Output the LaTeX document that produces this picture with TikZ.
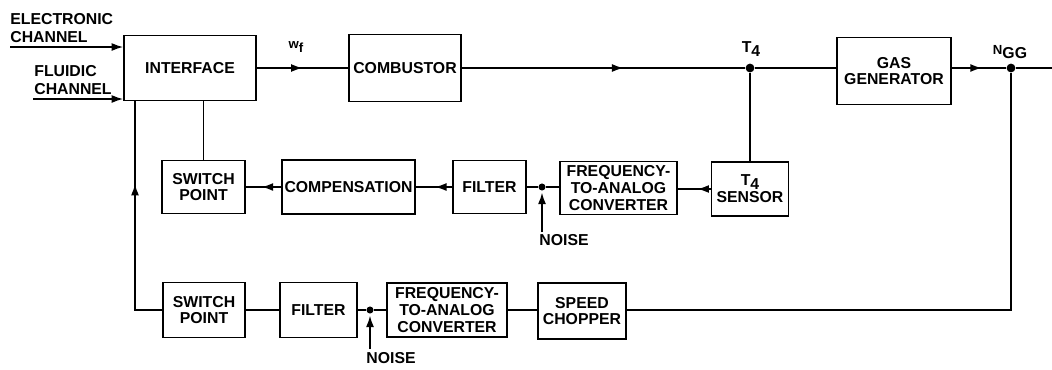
\documentclass[tikz,border=0pt]{standalone}
\usepackage{fontspec}
\setmainfont{Liberation Sans}
\usetikzlibrary{arrows.meta,decorations.markings}
\newcommand\blkfont{\fontsize{9}{9.6}\selectfont\bfseries}
\newcommand\lowr[1]{\raisebox{-0.45ex}{#1}}
\begin{document}
\begin{tikzpicture}[x=0.02cm,y=-0.02cm,
  blk/.style={draw,line width=1pt,inner sep=0pt,align=center,font=\blkfont},
  lbl/.style={inner sep=0pt,align=left,font=\fontsize{9}{10.4}\selectfont\bfseries},
  wire/.style={line width=0.8pt},
  tip/.style={-{Latex[length=6.5pt,width=4.5pt]}},
  marr/.style={postaction={decorate},decoration={markings,mark=at position #1 with {\arrow{Latex[length=6.5pt,width=4.5pt]}}}},
  bigdot/.style={circle,fill,inner sep=0pt,minimum size=5pt},
  smalldot/.style={circle,fill,inner sep=0pt,minimum size=4pt}]
\useasboundingbox (0,0) rectangle (1052,369);

% top row
\node[blk,minimum width=2.64cm,minimum height=1.30cm] (iface) at (190,68) {INTERFACE};
\node[blk,minimum width=2.24cm,minimum height=1.34cm] (comb) at (405,68) {COMBUSTOR};
\node[blk,minimum width=2.28cm,minimum height=1.34cm] (gg) at (894,71) {GAS\\GENERATOR};
\node[bigdot] (t4) at (750,68) {};
\node[bigdot] (ngg) at (1011,68) {};
\coordinate (rend) at (1052,68);

% middle row
\node[blk,minimum width=1.66cm,minimum height=1.06cm] (sp1) at (203.5,187) {SWITCH\\POINT};
\node[blk,minimum width=2.66cm,minimum height=1.08cm] (comp) at (348.5,187) {COMPENSATION};
\node[blk,minimum width=1.46cm,minimum height=1.06cm] (filt1) at (489.5,187) {FILTER};
\node[smalldot] (j1) at (542,187) {};
\node[blk,minimum width=2.34cm,minimum height=1.06cm] (fa1) at (618.5,188) {FREQUENCY-\\TO-ANALOG\\CONVERTER};
\node[blk,minimum width=1.54cm,minimum height=1.08cm] (sens) at (750,189) {T\lowr{4}\\SENSOR};

% bottom row
\node[blk,minimum width=1.64cm,minimum height=1.10cm] (sp2) at (204,310) {SWITCH\\POINT};
\node[blk,minimum width=1.54cm,minimum height=1.10cm] (filt2) at (318.5,310) {FILTER};
\node[smalldot] (j2) at (370,310) {};
\node[blk,minimum width=2.40cm,minimum height=1.08cm] (fa2) at (447,310) {FREQUENCY-\\TO-ANALOG\\CONVERTER};
\node[blk,minimum width=1.76cm,minimum height=1.12cm] (chop) at (582,311) {SPEED\\CHOPPER};

% labels
\node[lbl,anchor=north west] (elab) at (10,13) {ELECTRONIC\\CHANNEL};
\node[lbl,anchor=north west] (flab) at (34,65) {FLUIDIC\\CHANNEL};
\node[inner sep=0pt,font=\fontsize{7.5}{8}\selectfont\bfseries] (wf) at (296,47) {w\lowr{f}};
\node[inner sep=0pt,font=\fontsize{9}{10}\selectfont\bfseries] (t4l) at (751,49) {T\lowr{4}};
\node[inner sep=0pt,font=\fontsize{9}{10}\selectfont\bfseries] (nggl) at (1010,52) {{\fontsize{7.5}{8}\selectfont N}\lowr{GG}};
\node[inner sep=0pt,font=\fontsize{9}{10}\selectfont\bfseries] (n1) at (564,240) {NOISE};
\node[inner sep=0pt,font=\fontsize{9}{10}\selectfont\bfseries] (n2) at (391,358) {NOISE};

% inputs
\coordinate (ein) at (10,47);
\coordinate (fin) at (33,99);
\draw[wire,tip] (ein) -- (ein -| iface.west);
\draw[wire,tip] (fin) -- (fin -| iface.west);

% forward path
\draw[wire,marr=0.5] (iface.east) -- (comb.west);
\draw[wire,marr=0.57] (comb.east) -- (t4);
\draw[wire] (t4) -- (t4 -| gg.west);
\draw[wire,marr=0.55] (t4 -| gg.east) -- (ngg);
\draw[wire] (ngg) -- (rend);

% temperature loop
\draw[wire] (t4) -- (sens.north);
\draw[wire,marr=0.4] (sens.west) -- (sens.west -| fa1.east);
\draw[wire] (j1 -| fa1.west) -- (j1);
\draw[wire] (j1) -- (filt1.east);
\draw[wire,marr=0.47] (filt1.west) -- (comp.east);
\draw[wire,marr=0.55] (comp.west) -- (sp1.east);
\draw[wire] (sp1.north) -- (sp1.north |- iface.south);
\draw[wire,tip,shorten >=1pt] (j1 |- n1.north) ++(0,-2) -- (j1);

% speed loop
\coordinate (lb) at (135,310);
\draw[wire,marr=0.65] (sp2.west) -- (lb) -- (lb |- iface.south);
\draw[wire] (sp2.east) -- (filt2.west);
\draw[wire] (filt2.east) -- (j2);
\draw[wire] (j2) -- (fa2.west);
\draw[wire] (fa2.east) -- (fa2.east -| chop.west);
\draw[wire] (fa2.east -| chop.east) -- (ngg |- fa2.east) -- (ngg);
\draw[wire,tip,shorten >=1pt] (j2 |- n2.north) ++(0,-3) -- (j2);
\end{tikzpicture}
\end{document}
